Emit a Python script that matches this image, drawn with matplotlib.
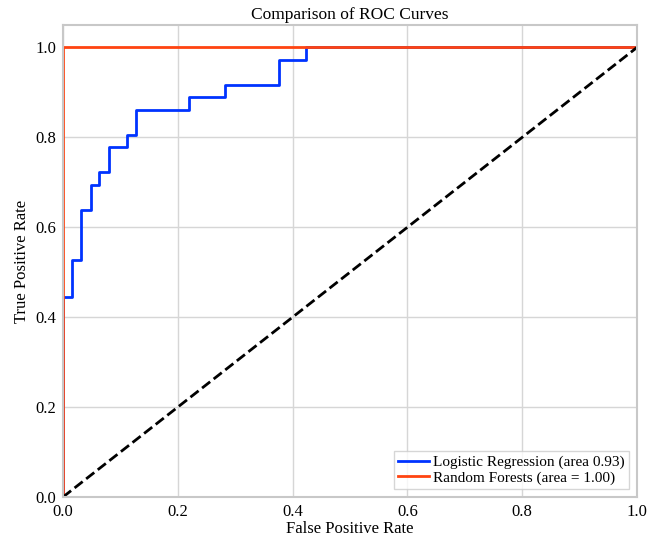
import matplotlib
matplotlib.use('Agg')
import matplotlib.pyplot as plt

# ROC points
lr_fpr = [0.0, 0.0, 0.016, 0.016, 0.032, 0.032, 0.049, 0.049, 0.063, 0.063,
          0.080, 0.080, 0.111, 0.111, 0.127, 0.127, 0.220, 0.220, 0.283, 0.283,
          0.376, 0.376, 0.424, 0.424, 1.0]
lr_tpr = [0.0, 0.444, 0.444, 0.528, 0.528, 0.639, 0.639, 0.694, 0.694, 0.722,
          0.722, 0.778, 0.778, 0.806, 0.806, 0.861, 0.861, 0.889, 0.889, 0.917,
          0.917, 0.972, 0.972, 1.0, 1.0]
rf_fpr = [0.0, 0.0, 1.0]
rf_tpr = [0.0, 1.0, 1.0]
lr_auc = 0.93
rf_auc = 1.00

plt.rcParams['font.family'] = ['Liberation Serif', 'DejaVu Serif']

fig = plt.figure(figsize=(6.65, 5.41), dpi=100)
ax = fig.add_axes([0.0947, 0.0813, 0.8633, 0.8727])

ax.plot(lr_fpr, lr_tpr, color='#0033ff', lw=2, label='Logistic Regression (area %0.2f)' % lr_auc)
ax.plot(rf_fpr, rf_tpr, color='#ff4411', lw=2, label='Random Forests (area = %0.2f)' % rf_auc)
ax.plot([0, 1], [0, 1], 'k--', lw=2)

ax.set_xlim(0, 1.0)
ax.set_ylim(0, 1.05)
ax.set_xticks([0.0, 0.2, 0.4, 0.6, 0.8, 1.0])
ax.set_yticks([0.0, 0.2, 0.4, 0.6, 0.8, 1.0])
ax.tick_params(length=0, labelsize=12, pad=5)
ax.grid(True, color='#d6d6d6', lw=1)
ax.set_axisbelow(True)
for s in ax.spines.values():
    s.set_color('#c8c8c8')
    s.set_linewidth(1.5)
    s.set_zorder(5)

ax.set_xlabel('False Positive Rate', fontsize=12, labelpad=1)
ax.set_ylabel('True Positive Rate', fontsize=12)
ax.set_title('Comparison of ROC Curves', fontsize=12.5, pad=4)

leg = ax.legend(loc='lower right', fontsize=11, fancybox=False, handlelength=2,
                borderpad=0.3, labelspacing=0.1, handletextpad=0.3, borderaxespad=0.5)
leg.get_frame().set_edgecolor('#cccccc')
leg.set_zorder(6)

fig.savefig('out.png', dpi=100)
